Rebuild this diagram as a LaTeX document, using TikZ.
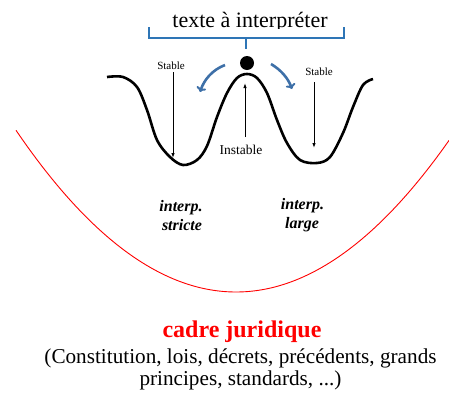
\documentclass[tikz,border=0pt]{standalone}
\usepackage{fontspec}
\setmainfont{Liberation Serif}
\usetikzlibrary{arrows.meta}
\definecolor{bracecol}{RGB}{46,117,182}
\definecolor{arrcol}{RGB}{62,112,168}
\definecolor{redcol}{RGB}{255,0,0}
\tikzset{
  txt/.style={anchor=base, inner sep=0pt, outer sep=0pt},
  thinarrow/.style={draw=black, line width=0.9pt, -{Latex[length=5pt,width=3.5pt]}},
  bluearrow/.style={draw=arrcol, line width=2.6pt, -{To[length=5pt,width=10pt,line width=2pt]}},
}
\begin{document}
\begin{tikzpicture}[x=1pt,y=-1pt]
\useasboundingbox (0,0) rectangle (449,394);
% title clipped
\begin{scope}
\clip (0,0) rectangle (449,28.5);
\node[txt, font=\fontsize{22}{26}\selectfont] (title) at (250,27) {texte à interpréter};
\end{scope}
% brace
\coordinate (bl) at (149,27);
\coordinate (br) at (344,27);
\coordinate (bm) at (246,38);
\coordinate (bt) at (246,49);
\draw[bracecol, line width=1.5pt] (bl) -- (149,38) -- (344,38) -- (br);
\draw[bracecol, line width=1.5pt] (bm) -- (bt);
% ball
\node[circle, fill=black, minimum size=14pt, inner sep=0pt] (ball) at (247,63) {};
% wave
\draw[line width=2.6pt, line join=round] plot[smooth, tension=0.55] coordinates {
(107,77) (123,77) (137,87) (147,110) (157,140) (170,157) (183,165) (197,160) (207,146)
(217,117) (227,93) (237,78) (247,74) (257,78) (267,93) (277,120) (287,143) (300,160)
(317,163) (330,157) (343,133) (353,107) (363,85) (373,79)};
% labels in wave
\node[txt, font=\fontsize{11}{13}\selectfont] (sl) at (171,69) {Stable};
\node[txt, font=\fontsize{11}{13}\selectfont] (sr) at (319,75) {Stable};
\node[txt, font=\fontsize{13.5}{16}\selectfont] (inst) at (241,154) {Instable};
\coordinate (sla) at (173,72);
\coordinate (slb) at (173,158);
\coordinate (sra) at (314,82);
\coordinate (srb) at (314,148);
\coordinate (ia) at (245,137);
\coordinate (ib) at (245,83);
\draw[thinarrow] (sla) -- (slb);
\draw[thinarrow] (sra) -- (srb);
\draw[thinarrow] (ia) -- (ib);
% blue arrows
\coordinate (la) at (225,65);
\coordinate (lb) at (200,92);
\coordinate (ra) at (271,64);
\coordinate (rb) at (292,89);
\draw[bluearrow] (la) .. controls (212,70) and (204,80) .. (lb);
\draw[bluearrow] (ra) .. controls (281,70) and (288,78) .. (rb);
% red parabola
\draw[redcol, line width=0.9pt] plot[domain=16:449, samples=120, smooth] (\x,{292-0.00334*(\x-236)*(\x-236)});
% interp labels
\node[txt, font=\fontsize{16}{19}\selectfont\bfseries\itshape] (st1) at (181,211.5) {interp.};
\node[txt, font=\fontsize{16}{19}\selectfont\bfseries\itshape] (st2) at (182,230) {stricte};
\node[txt, font=\fontsize{16}{19}\selectfont\bfseries\itshape] (lg1) at (302.5,209) {interp.};
\node[txt, font=\fontsize{16}{19}\selectfont\bfseries\itshape] (lg2) at (302,228) {large};
% bottom text
\node[txt, text=redcol, font=\fontsize{24}{28}\selectfont\bfseries] (cadre) at (242,337) {cadre juridique};
\node[txt, font=\fontsize{21.2}{25}\selectfont] (l2) at (240.5,363) {(Constitution, lois, décrets, précédents, grands};
\node[txt, font=\fontsize{21.2}{25}\selectfont] (l3) at (240.5,385.5) {principes, standards, ...)};
\end{tikzpicture}
\end{document}
